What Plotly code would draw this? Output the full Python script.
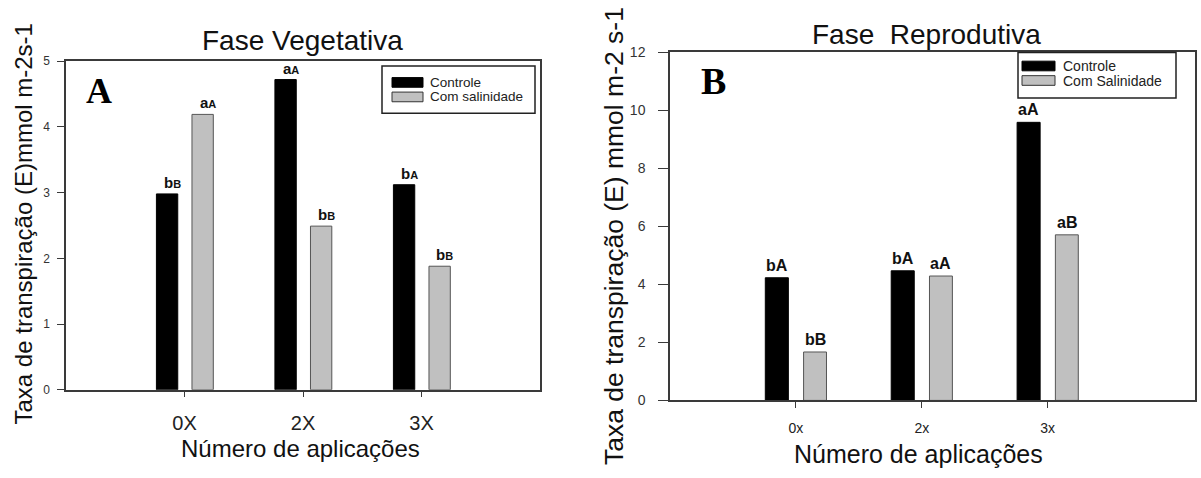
import plotly.graph_objects as go

# Data ----------------------------------------------------------------------
series_names_a = ["Controle", "Com salinidade"]
series_names_b = ["Controle", "Com Salinidade"]

cats_a = ["0X", "2X", "3X"]
cats_b = ["0x", "2x", "3x"]

# Fase Vegetativa (A)
veg_controle = [2.98, 4.72, 3.12]
veg_salinidade = [4.19, 2.49, 1.88]
veg_letters_controle = [("b", "B"), ("a", "A"), ("b", "A")]
veg_letters_salinidade = [("a", "A"), ("b", "B"), ("b", "B")]

# Fase Reprodutiva (B)
rep_controle = [4.23, 4.47, 9.59]
rep_salinidade = [1.67, 4.29, 5.71]
rep_letters_controle = [("b", "A"), ("b", "A"), ("a", "A")]
rep_letters_salinidade = [("b", "B"), ("a", "A"), ("a", "B")]

# Layout helpers ----------------------------------------------------------
W, H = 1201, 478
FONT = "Liberation Sans, Arial, sans-serif"
SERIF = "Liberation Serif, Times New Roman, serif"
BLACK = "#000000"
GRAY = "#c0c0c0"
GRAY_EDGE = "#555555"
AXIS = "#3a3a3a"


def px(x):
    return x / W


def py(y):
    return 1 - y / H


idx = list(range(len(cats_a)))

fig = go.Figure()

# Panel A bars
fig.add_trace(go.Bar(
    x=idx, y=veg_controle, name=series_names_a[0], xaxis="x", yaxis="y",
    offset=-0.237, width=0.18,
    marker=dict(color=BLACK, line=dict(color=BLACK, width=1)),
    showlegend=False,
))
fig.add_trace(go.Bar(
    x=idx, y=veg_salinidade, name=series_names_a[1], xaxis="x", yaxis="y",
    offset=0.063, width=0.18,
    marker=dict(color=GRAY, line=dict(color=GRAY_EDGE, width=1)),
    showlegend=False,
))

# Panel B bars
fig.add_trace(go.Bar(
    x=idx, y=rep_controle, name=series_names_b[0], xaxis="x2", yaxis="y2",
    offset=-0.243, width=0.183,
    marker=dict(color=BLACK, line=dict(color=BLACK, width=1)),
    showlegend=False,
))
fig.add_trace(go.Bar(
    x=idx, y=rep_salinidade, name=series_names_b[1], xaxis="x2", yaxis="y2",
    offset=0.061, width=0.182,
    marker=dict(color=GRAY, line=dict(color=GRAY_EDGE, width=1)),
    showlegend=False,
))

annotations = []
shapes = []

# Significance letters above bars
for vals, letters, off, w in [(veg_controle, veg_letters_controle, -0.237, 0.18),
                              (veg_salinidade, veg_letters_salinidade, 0.063, 0.18)]:
    for i, (v, (lo, up)) in enumerate(zip(vals, letters)):
        annotations.append(dict(
            x=i + off + w / 2, y=v, xref="x", yref="y",
            text=f"<b>{lo}<span style='font-size:11px'>{up}</span></b>",
            showarrow=False, xanchor="center", yanchor="bottom",
            xshift=5, yshift=1,
            font=dict(family=FONT, size=15, color="#111"),
        ))

for vals, letters, off, w in [(rep_controle, rep_letters_controle, -0.243, 0.183),
                              (rep_salinidade, rep_letters_salinidade, 0.061, 0.182)]:
    for i, (v, (lo, up)) in enumerate(zip(vals, letters)):
        annotations.append(dict(
            x=i + off + w / 2, y=v, xref="x2", yref="y2",
            text=f"<b>{lo}{up}</b>",
            showarrow=False, xanchor="center", yanchor="bottom",
            yshift=2,
            font=dict(family=FONT, size=16, color="#111"),
        ))

# Panel titles
annotations.append(dict(
    text="Fase Vegetativa", x=px(302), y=py(34), xref="paper", yref="paper",
    showarrow=False, xanchor="center", yanchor="middle",
    font=dict(family=FONT, size=28, color="#111"),
))
annotations.append(dict(
    text="Fase&nbsp; Reprodutiva", x=px(926), y=py(27), xref="paper", yref="paper",
    showarrow=False, xanchor="center", yanchor="middle",
    font=dict(family=FONT, size=28, color="#111"),
))

# Panel letters
annotations.append(dict(
    text="<b>A</b>", x=px(84), y=py(100), xref="paper", yref="paper",
    showarrow=False, xanchor="left", yanchor="bottom", yshift=-8,
    font=dict(family=SERIF, size=36, color="#000"),
))
annotations.append(dict(
    text="<b>B</b>", x=px(699), y=py(91), xref="paper", yref="paper",
    showarrow=False, xanchor="left", yanchor="bottom", yshift=-8,
    font=dict(family=SERIF, size=38, color="#000"),
))

# Axis titles
annotations.append(dict(
    text="Taxa de transpiração (E)mmol m-2s-1", x=px(24), y=py(224),
    xref="paper", yref="paper", textangle=-90, showarrow=False,
    xanchor="center", yanchor="middle",
    font=dict(family=FONT, size=24, color="#111"),
))
annotations.append(dict(
    text="Taxa de transpiração (E) mmol m-2 s-1", x=px(614), y=py(236),
    xref="paper", yref="paper", textangle=-90, showarrow=False,
    xanchor="center", yanchor="middle",
    font=dict(family=FONT, size=26.5, color="#111"),
))
annotations.append(dict(
    text="Número de aplicações", x=px(300), y=py(456),
    xref="paper", yref="paper", showarrow=False,
    xanchor="center", yanchor="middle",
    font=dict(family=FONT, size=24, color="#111"),
))
annotations.append(dict(
    text="Número de aplicações", x=px(918), y=py(461),
    xref="paper", yref="paper", showarrow=False,
    xanchor="center", yanchor="middle",
    font=dict(family=FONT, size=25, color="#111"),
))


# Boxed legends drawn with wide rectangular swatches
def boxed_legend(box, swatch_x, swatch_rows, text_x, text_rows, names, size):
    x0, x1, y0, y1 = box
    shapes.append(dict(type="rect", xref="paper", yref="paper",
                       x0=px(x0), x1=px(x1), y0=py(y1), y1=py(y0),
                       line=dict(color="#222", width=1.5), fillcolor="white", layer="above"))
    fills = [(BLACK, BLACK), (GRAY, "#333")]
    for (sy0, sy1), (fc, lc) in zip(swatch_rows, fills):
        shapes.append(dict(type="rect", xref="paper", yref="paper",
                           x0=px(swatch_x[0]), x1=px(swatch_x[1]), y0=py(sy1), y1=py(sy0),
                           line=dict(color=lc, width=1), fillcolor=fc, layer="above"))
    for ty, name in zip(text_rows, names):
        annotations.append(dict(
            text=name, x=px(text_x), y=py(ty), xref="paper", yref="paper",
            showarrow=False, xanchor="left", yanchor="middle",
            font=dict(family=FONT, size=size, color="#222"),
        ))


boxed_legend((382, 535, 60, 109), (392, 423), [(72, 82), (87, 97)],
             428, [77, 92], series_names_a, 13.5)
boxed_legend((1018, 1176, 46, 93), (1022, 1055), [(55, 65), (70, 80)],
             1061, [60, 75.5], series_names_b, 14)

axis_common = dict(showline=True, mirror=True, linecolor=AXIS, linewidth=1.5,
                   showgrid=False, zeroline=False, ticks="outside", tickcolor=AXIS,
                   tickwidth=1.2)

fig.update_layout(
    width=W, height=H,
    margin=dict(l=0, r=0, t=0, b=0),
    paper_bgcolor="white", plot_bgcolor="white",
    showlegend=False,
    barmode="overlay",
    xaxis=dict(domain=[px(66), px(540)], range=[-1, 3], tickvals=idx, ticktext=cats_a,
               ticklen=5, anchor="y",
               tickfont=dict(family=FONT, size=20, color="#222"), ticklabelstandoff=9,
               **axis_common),
    yaxis=dict(domain=[py(395), py(55)], range=[0, 5], dtick=1, ticklen=7, anchor="x",
               tickfont=dict(family=FONT, size=12, color="#333"), ticklabelstandoff=5,
               **axis_common),
    xaxis2=dict(domain=[px(670), px(1195)], range=[-1, 3.17], tickvals=idx, ticktext=cats_b,
                ticklen=6, anchor="y2",
                tickfont=dict(family=FONT, size=14, color="#222"), ticklabelstandoff=8,
                **axis_common),
    yaxis2=dict(domain=[py(406), py(46)], range=[0, 12], dtick=2, ticklen=10, anchor="x2",
                tickfont=dict(family=FONT, size=14, color="#333"), ticklabelstandoff=10,
                **axis_common),
    annotations=annotations,
    shapes=shapes,
)

fig.write_html("out.html")
